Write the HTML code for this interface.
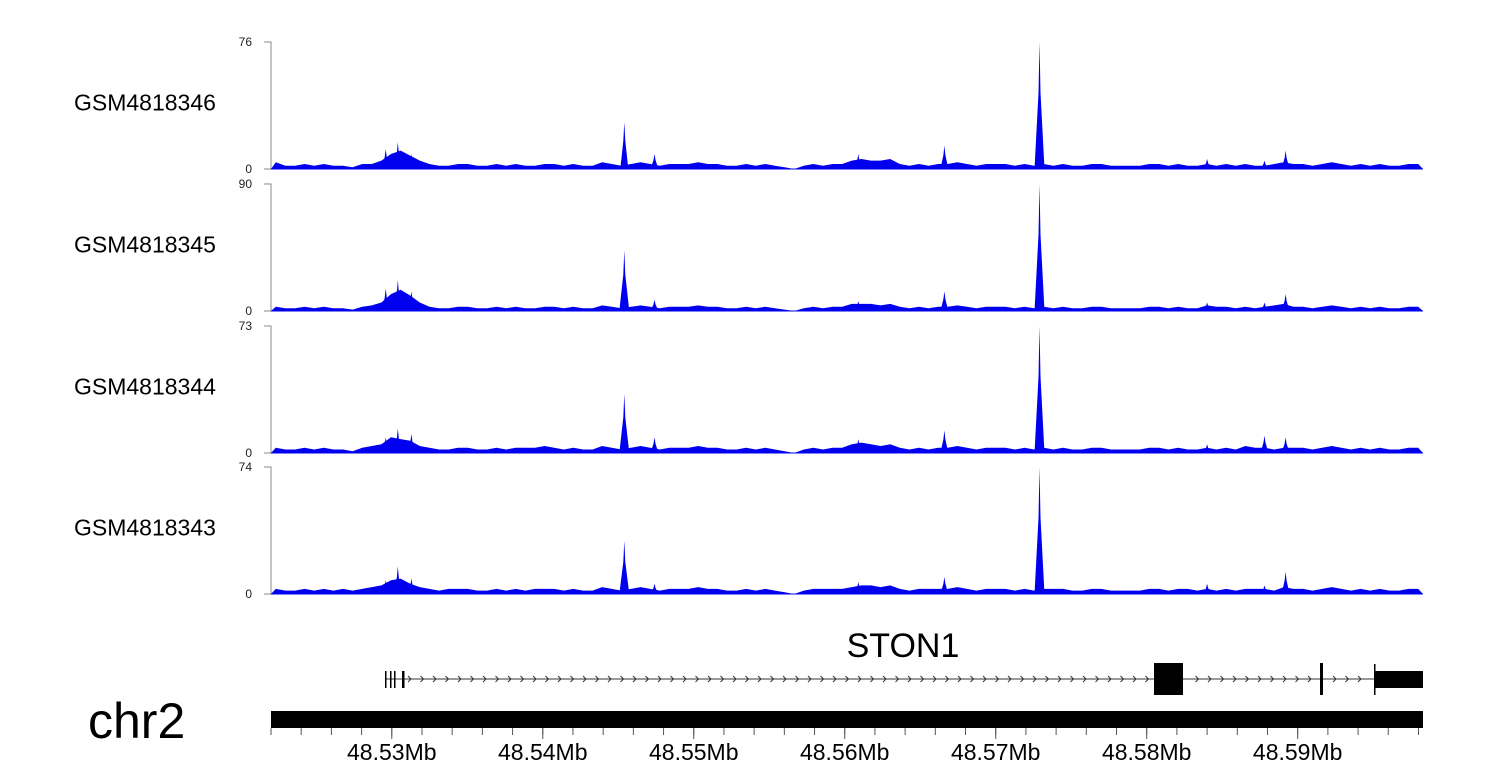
<!DOCTYPE html>
<html><head><meta charset="utf-8"><style>
html,body{margin:0;padding:0;background:#fff;}
svg{display:block;font-family:"Liberation Sans",Arial,sans-serif;}
</style></head><body>
<svg id="chart" width="1500" height="780" viewBox="0 0 1500 780"></svg>
<script>
// ---- data ----
const trackNames = ["GSM4818346","GSM4818345","GSM4818344","GSM4818343"];
const trackMax = [76, 90, 73, 74];
const t1Base = [4,2,2,3,2,3,2,2,1,3,3,5,9,11,8,5,3,2,2,3,3,2,2,3,2,3,2,2,3,3,2,3,2,2,4,3,2,3,4,3,2,3,3,3,4,3,3,2,2,3,2,3,2,1,0,2,3,2,3,3,5,6,5,5,6,3,2,3,2,3,3,4,3,2,3,3,3,2,3,2,3,2,3,2,2,3,3,2,2,2,2,3,3,2,3,2,2,3,2,3,2,3,2,2,3,4,3,3,2,3,4,3,2,3,2,3,2,2,3,3];
const t2Base = [3,2,2,3,2,3,2,2,1,3,4,6,12,15,11,6,3,2,2,3,3,2,2,3,2,3,2,2,3,3,2,3,2,2,4,3,2,3,4,3,2,3,3,3,4,3,3,2,2,3,2,3,2,1,0,2,3,2,3,3,5,5,5,4,5,3,2,3,2,3,3,4,3,2,3,3,3,2,3,2,3,2,3,2,2,3,3,2,2,2,2,3,3,2,3,2,2,4,3,3,2,3,2,3,4,5,3,3,2,3,4,3,2,3,2,3,2,2,3,3];
const t3Base = [3,2,2,3,2,3,2,2,1,3,4,5,9,8,7,4,3,2,2,3,3,2,2,3,2,3,3,3,4,3,2,3,2,2,4,3,2,3,4,3,2,3,3,3,4,3,3,2,2,3,2,3,2,1,0,2,3,2,3,3,5,6,5,4,5,3,2,3,2,3,3,4,3,2,3,3,3,2,3,2,3,2,3,2,2,3,3,2,2,2,2,3,3,2,3,2,2,3,2,3,2,4,3,3,2,3,3,3,2,3,4,3,2,3,2,3,2,2,3,3];
const t4Base = [3,2,2,3,2,3,2,3,2,3,4,5,8,9,6,4,3,2,3,3,3,2,2,3,2,3,2,3,3,3,2,3,2,2,4,3,2,3,4,3,2,3,3,3,4,3,3,2,2,3,2,3,2,1,0,2,3,3,3,3,4,5,5,4,5,3,2,3,3,3,3,4,3,2,3,3,3,2,3,2,3,3,3,2,2,3,3,2,2,2,2,3,3,2,3,3,2,3,2,3,2,3,3,3,2,4,3,3,2,3,4,3,2,3,2,3,2,2,3,3];
const peakPos = [48.5296,48.5304,48.5313,48.5454,48.5474,48.5609,48.5666,48.5729,48.5840,48.5878,48.5892];
const t1Peaks = [12,16,9,28,9,9,14,76,6,5,11];
const t2Peaks = [16,22,14,43,8,7,14,90,6,6,12];
const t3Peaks = [9,14,11,34,9,8,13,73,5,10,9];
const t4Peaks = [8,16,9,31,6,7,10,74,6,5,13];
const tickLabels = ["48.53Mb","48.54Mb","48.55Mb","48.56Mb","48.57Mb","48.58Mb","48.59Mb"];
const tickPos = [48.53,48.54,48.55,48.56,48.57,48.58,48.59];

const bases=[t1Base,t2Base,t3Base,t4Base], peaks=[t1Peaks,t2Peaks,t3Peaks,t4Peaks];
const X0=271, X1=1423, G0=48.52200, G1=48.59830;
const xs = g => X0 + (g-G0)/(G1-G0)*(X1-X0);
const tops=[42,184,326,467], H=127;
const NS="http://www.w3.org/2000/svg", svg=document.getElementById('chart');
function mk(tag,attrs,parent){const e=document.createElementNS(NS,tag);for(const k in attrs)e.setAttribute(k,attrs[k]);(parent||svg).appendChild(e);return e;}

trackNames.forEach((name,t)=>{
  const g=mk('g',{});
  
  
  const top=tops[t], base=top+H, ys=v=>base - v/trackMax[t]*H;
  const lab=mk('text',{x:74,y:top+H/2-1,'font-size':23,fill:'#000','dominant-baseline':'middle'},g);
  lab.textContent=name;
  
  
  const ax=mk('path',{d:`M264 ${top}H271V${base}H264`,stroke:'#888',fill:'none','stroke-width':1},g);
  
  
  [[trackMax[t],top],[0,base]].forEach(([v,y])=>{
    const tx=mk('text',{x:252,y:y+4,'font-size':12,'text-anchor':'end',fill:'#222'},g);
    tx.textContent=v;
    
    
  });
  const b=bases[t], n=b.length, w=(X1-X0)/n;
  let d=`M${X0} ${base}`;
  b.forEach((v,i)=>{d+=`L${(X0+(i+0.5)*w).toFixed(1)} ${ys(v).toFixed(1)}`;});
  d+=`L${X1} ${base}Z`;
  const area=mk('path',{d,fill:'#0000ee'},g);
  
  
  peakPos.forEach((p,i)=>{
    const x=xs(p), v=peaks[t][i], hw=v>30?5:4;
    const pk=mk('path',{d:`M${x-hw} ${base}L${x-1} ${ys(v*0.6)}L${x} ${ys(v)}L${x+1} ${ys(v*0.6)}L${x+hw} ${base}Z`,fill:'#0000ee'},g);
    
    
  });
  const bl=mk('line',{x1:X0,x2:X1,y1:base,y2:base,stroke:'#0000ee','stroke-width':1},g);
  
  
});

// gene track
const gg=mk('g',{});


const gl=mk('text',{x:903,y:657,'font-size':34,'text-anchor':'middle',fill:'#000'},gg);
gl.textContent='STON1';


mk('line',{x1:385,x2:1423,y1:679,y2:679,stroke:'#333','stroke-width':1},gg);
for(let x=410;x<1415;x+=12.5){
  if((x>1150&&x<1190)||(x>1316&&x<1328)||x>1372)continue;
  mk('path',{d:`M${x-2} 676L${x+1} 679L${x-2} 682`,stroke:'#333',fill:'none','stroke-width':1},gg);
}
[386,391,395,403].forEach(x=>mk('rect',{x:x-1,y:671,width:x===403?2.5:1.5,height:17,fill:'#000'},gg));
mk('rect',{x:1154,y:663,width:29,height:32,fill:'#000'},gg);
mk('rect',{x:1320,y:663,width:3,height:32,fill:'#000'},gg);
mk('rect',{x:1374,y:664,width:1.5,height:31,fill:'#000'},gg);
mk('rect',{x:1375,y:671,width:48,height:17,fill:'#000'},gg);

// chromosome
const cl=mk('text',{x:88,y:738,'font-size':50,fill:'#000'});
cl.textContent='chr2';


const cb=mk('rect',{x:271,y:711,width:1152,height:17,fill:'#000'});


const xa=mk('g',{});


for(let g=48.522;g<=48.5984;g+=0.002){
  const x=xs(g);
  mk('line',{x1:x,x2:x,y1:728,y2:735,stroke:'#555','stroke-width':1},xa);
}
tickPos.forEach((p,i)=>{
  const x=xs(p);
  mk('line',{x1:x,x2:x,y1:728,y2:739,stroke:'#555','stroke-width':1},xa);
  const tx=mk('text',{x:x,y:760,'font-size':23,'text-anchor':'middle',fill:'#000'},xa);
  tx.textContent=tickLabels[i];
  
  
});
</script>
</body></html>
